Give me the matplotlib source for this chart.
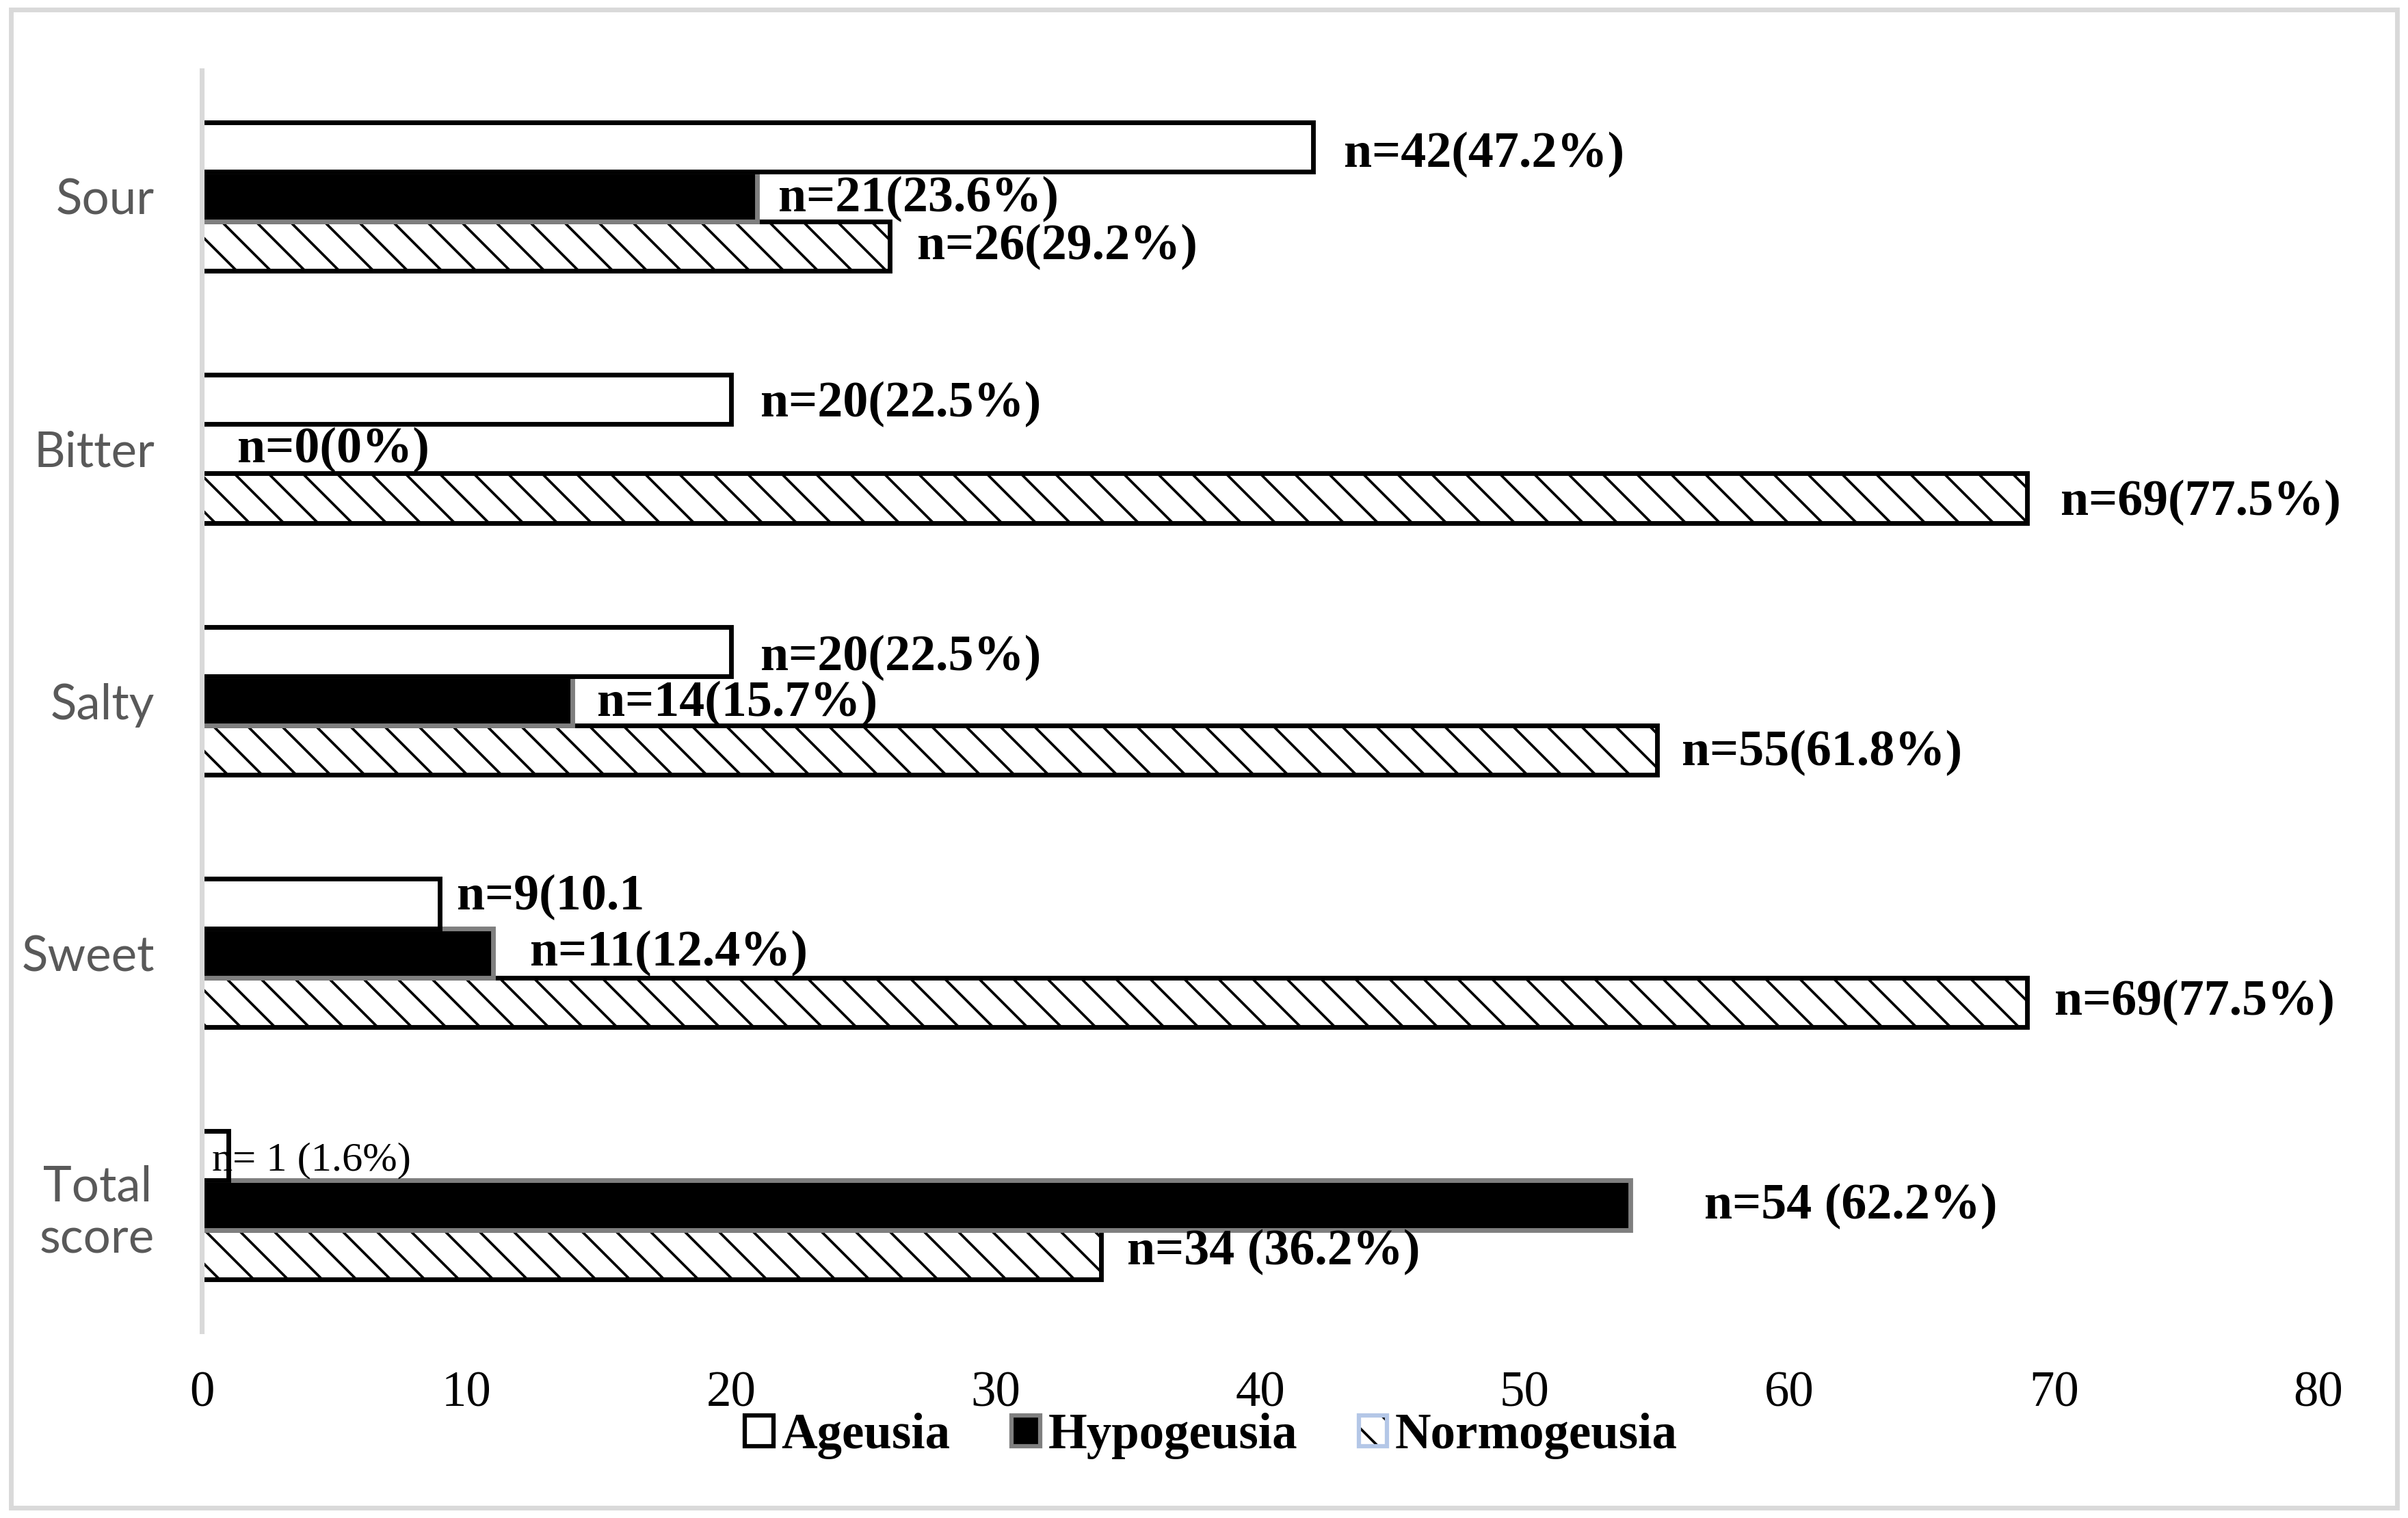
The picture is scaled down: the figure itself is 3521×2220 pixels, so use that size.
import matplotlib
matplotlib.use("Agg")
import matplotlib.pyplot as plt
from matplotlib.patches import Patch, Rectangle
from matplotlib.legend_handler import HandlerTuple
import numpy as np

# ---------------- data ----------------
categories = ["Sour", "Bitter", "Salty", "Sweet", "Total\nscore"]
series_names = ["Ageusia", "Hypogeusia", "Normogeusia"]
ageusia = [42, 20, 20, 9, 1]
hypogeusia = [21, 0, 14, 11, 54]
normogeusia = [26, 69, 55, 69, 34]
labels_ageusia = ["n=42(47.2%)", "n=20(22.5%)", "n=20(22.5%)", "n=9(10.1", "n= 1 (1.6%)"]
labels_hypogeusia = ["n=21(23.6%)", "n=0(0%)", "n=14(15.7%)", "n=11(12.4%)", "n=54 (62.2%)"]
labels_normogeusia = ["n=26(29.2%)", "n=69(77.5%)", "n=55(61.8%)", "n=69(77.5%)", "n=34 (36.2%)"]
xticks = [0, 10, 20, 30, 40, 50, 60, 70, 80]

# ---------------- layout (label offsets in pixels: right, down) ----------------
off_A = [(45, 11), (43, 7), (43, 9), (25, -9), (-24, 7)]
off_H = [(31, 4), (52, 2), (36, 4), (54, 0), (108, 2)]
off_N = [(40, 2), (49, 7), (36, 4), (40, 0), (38, -4)]

DPI = 150
W, H = 3521, 2220
PX = 72.0 / DPI  # points per pixel

plt.rcParams['hatch.linewidth'] = 1.8

fig = plt.figure(figsize=(W / DPI, H / DPI), dpi=DPI)
fig.patch.set_facecolor("white")

left, right = 295 / W, 3390 / W
bottom, top = 1 - 1947 / H, 1 - 103 / H
ax = fig.add_axes([left, bottom, right - left, top - bottom])

y = np.arange(len(categories))
h = 0.196
lw = 3.3

bN = ax.barh(y + h, normogeusia, height=h, facecolor="white", edgecolor="black",
             hatch="\\", linewidth=lw, zorder=1)
bH = ax.barh(y, hypogeusia, height=h, facecolor="black", edgecolor="#7f7f7f",
             linewidth=[lw if v > 0 else 0 for v in hypogeusia], zorder=1.1)
bA = ax.barh(y - h, ageusia, height=h, facecolor="white", edgecolor="black",
             linewidth=lw, zorder=1.2)

ax.set_xlim(0, 80)
ax.set_ylim(len(categories) - 0.5, -0.5)

bold_font = dict(family="Liberation Serif", fontweight="bold", fontsize=35.5, color="black")
for vals, labs, offs, dy in [(ageusia, labels_ageusia, off_A, -h),
                             (hypogeusia, labels_hypogeusia, off_H, 0),
                             (normogeusia, labels_normogeusia, off_N, h)]:
    for i, (v, lab, (ox, oy)) in enumerate(zip(vals, labs, offs)):
        kw = dict(bold_font)
        if lab.startswith("n= 1"):
            kw = dict(family="Liberation Serif", fontweight="normal", fontsize=29, color="black")
        ax.annotate(lab, xy=(v, y[i] + dy), xytext=(ox * PX, -oy * PX),
                    textcoords="offset points", ha="left", va="center",
                    zorder=5, **kw)

# axes styling
for s in ["top", "right", "bottom"]:
    ax.spines[s].set_visible(False)
ax.spines["left"].set_color("#d9d9d9")
ax.spines["left"].set_linewidth(3.4)

ax.set_yticks(y)
ax.set_yticklabels(categories, family="Lato", fontsize=34, color="#595959")
for t in ax.get_yticklabels():
    t.set_multialignment("center")
ax.tick_params(axis="y", length=0, pad=33)

ax.set_xticks(xticks)
ax.set_xticklabels([str(v) for v in xticks], family="Liberation Serif", fontsize=35, color="black")
ax.tick_params(axis="x", length=0, pad=28)

# legend
hA = Patch(facecolor="white", edgecolor="black", linewidth=3.0)
hH = Patch(facecolor="black", edgecolor="#7f7f7f", linewidth=3.0)
hN1 = Patch(facecolor="white", edgecolor="black", hatch="\\", linewidth=0)
hN2 = Patch(facecolor="none", edgecolor="#b4c7e7", linewidth=3.0)
leg = fig.legend([hA, hH, (hN1, hN2)], series_names, loc="center",
                 bbox_to_anchor=(0.503, 1 - 2100 / H), ncol=3, frameon=False,
                 handler_map={tuple: HandlerTuple(ndivide=1)},
                 prop=dict(family="Liberation Serif", weight="bold", size=35),
                 handlelength=0.57, handleheight=0.57, handletextpad=0.16,
                 columnspacing=1.23, borderaxespad=0)

# chart-area frame
fig.patches.append(Rectangle((16 / W, 1 - 2205 / H), (3505 - 16) / W, (2205 - 14) / H,
                             transform=fig.transFigure, fill=False,
                             edgecolor="#d9d9d9", linewidth=3.3, zorder=0))

fig.savefig("out.png", dpi=DPI)
